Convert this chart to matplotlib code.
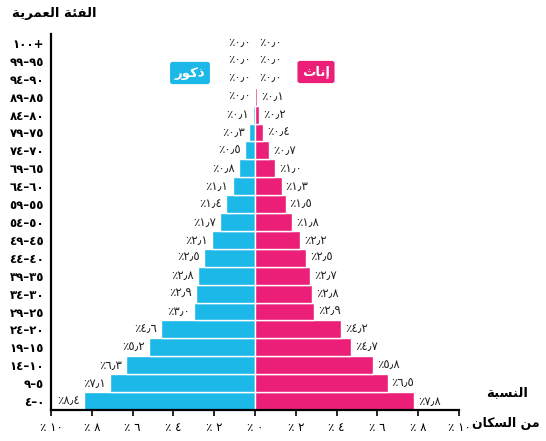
import matplotlib
matplotlib.use("Agg")
import matplotlib.pyplot as plt

# Age groups (bottom to top), written in visual order
age_groups = ["٤–٠", "٩–٥", "١٤–١٠", "١٩–١٥", "٢٤–٢٠", "٢٩–٢٥", "٣٤–٣٠", "٣٩–٣٥",
              "٤٤–٤٠", "٤٩–٤٥", "٥٤–٥٠", "٥٩–٥٥", "٦٤–٦٠", "٦٩–٦٥", "٧٤–٧٠",
              "٧٩–٧٥", "٨٤–٨٠", "٨٩–٨٥", "٩٤–٩٠", "٩٩–٩٥", "١٠٠+"]
males = [8.4, 7.1, 6.3, 5.2, 4.6, 3.0, 2.9, 2.8, 2.5, 2.1, 1.7, 1.4, 1.1, 0.8, 0.5,
         0.3, 0.1, 0.0, 0.0, 0.0, 0.0]
females = [7.8, 6.5, 5.8, 4.7, 4.2, 2.9, 2.8, 2.7, 2.5, 2.2, 1.8, 1.5, 1.3, 1.0, 0.7,
           0.4, 0.2, 0.1, 0.0, 0.0, 0.0]
x_ticks = [-10, -8, -6, -4, -2, 0, 2, 4, 6, 8, 10]

MALE_C = "#1cb8e8"
FEMALE_C = "#ec1f78"
AR_DIGITS = str.maketrans("0123456789", "٠١٢٣٤٥٦٧٨٩")


def ar_num(v):
    s = f"{v:.1f}".translate(AR_DIGITS).replace(".", "٫")
    return "٪" + s


def ar_tick(v):
    return "٪ " + str(abs(int(v))).translate(AR_DIGITS)


plt.rcParams['font.family'] = ['DejaVu Sans']

fig = plt.figure(figsize=(5.46, 4.41), dpi=100)
ax = fig.add_axes([51 / 546, 1 - 410 / 441, 408 / 546, 376 / 441])

y = list(range(len(age_groups)))
ax.barh(y, [-m for m in males], height=1.0, color=MALE_C, edgecolor="white", linewidth=1.0)
ax.barh(y, females, height=1.0, color=FEMALE_C, edgecolor="white", linewidth=1.0)

for i, (m, f) in enumerate(zip(males, females)):
    ax.text(-m - 0.2, i, ar_num(m), ha="right", va="center", fontsize=8.5, color="#222222")
    ax.text(f + 0.2, i, ar_num(f), ha="left", va="center", fontsize=8.5, color="#222222")

ax.set_xlim(-10, 10)
ax.set_ylim(-0.5, 20.5)
ax.set_xticks(x_ticks)
ax.set_xticklabels([ar_tick(v) for v in x_ticks], fontsize=8.5)
ax.set_yticks(y)
ax.set_yticklabels(age_groups, fontsize=8.5, fontweight="bold")
ax.tick_params(axis="y", length=0, pad=5)
ax.tick_params(axis="x", length=4, width=1.2, direction="out", pad=4)
for s in ["top", "right"]:
    ax.spines[s].set_visible(False)
ax.spines["left"].set_linewidth(1.6)
ax.spines["bottom"].set_linewidth(1.6)

# Titles (Arabic presentation forms, visual order)
fig.text(12 / 546, 1 - 13 / 441, "ﺔﻳﺮﻤﻌﻟﺍ ﺔﺌﻔﻟﺍ", fontsize=9.5, fontweight="bold", ha="left", va="center")
fig.text(507 / 546, 1 - 393 / 441, "ﺔﺒﺴﻨﻟﺍ", fontsize=9.5, fontweight="bold", ha="center", va="center")
fig.text(472 / 546, 1 - 423 / 441, "ﻥﺎﻜﺴﻟﺍ ﻦﻣ", fontsize=9, fontweight="bold", ha="left", va="center")

# Legend boxes
fig.text(190 / 546, 1 - 73 / 441, "ﺭﻮﻛﺫ", fontsize=9.5, fontweight="bold", color="white",
         ha="center", va="center",
         bbox=dict(boxstyle="round,pad=0.35,rounding_size=0.2", fc=MALE_C, ec="none"))
fig.text(316 / 546, 1 - 72 / 441, "ﺙﺎﻧﺇ", fontsize=9.5, fontweight="bold", color="white",
         ha="center", va="center",
         bbox=dict(boxstyle="round,pad=0.35,rounding_size=0.2", fc=FEMALE_C, ec="none"))

fig.savefig("out.png", dpi=100)
